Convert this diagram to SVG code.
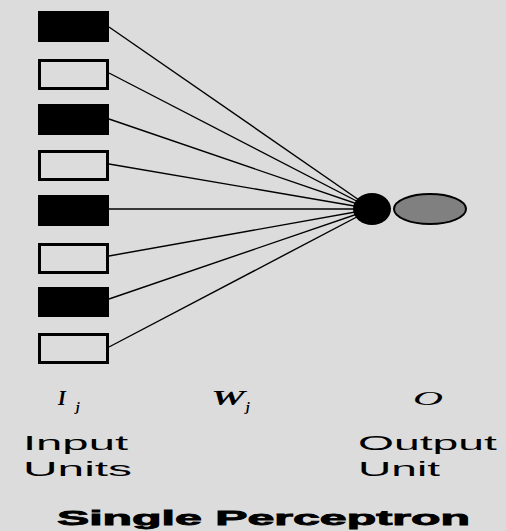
<svg xmlns="http://www.w3.org/2000/svg" width="506" height="531" viewBox="0 0 506 531">
<style>
.on{fill:#000}
.off{fill:#dcdcdc;stroke:#000;stroke-width:3}
.w{stroke:#000;stroke-width:1.4;fill:none}
.t{font-family:"Liberation Sans",Arial,sans-serif;font-size:20px;fill:#000}
.m{font-family:"Liberation Serif","Times New Roman",serif;font-style:italic;font-weight:bold;fill:#000}
.o{font-family:"Liberation Serif","Times New Roman",serif;font-style:italic;font-weight:normal;fill:#000}
</style>
<rect width="506" height="531" fill="#dcdcdc"/>
<g id="connectors">
<line class="w" x1="109" y1="27" x2="372" y2="209"/>
<line class="w" x1="109" y1="73" x2="372" y2="209"/>
<line class="w" x1="109" y1="119" x2="372" y2="209"/>
<line class="w" x1="109" y1="164" x2="372" y2="209"/>
<line class="w" x1="109" y1="209" x2="372" y2="209"/>
<line class="w" x1="109" y1="256" x2="372" y2="209"/>
<line class="w" x1="109" y1="299" x2="372" y2="209"/>
<line class="w" x1="109" y1="347" x2="372" y2="209"/>
</g>
<g id="in1"><rect class="on" x="38" y="11" width="71" height="31"/></g>
<g id="in2"><rect class="off" x="39.5" y="60.5" width="68" height="28"/></g>
<g id="in3"><rect class="on" x="38" y="104" width="71" height="31"/></g>
<g id="in4"><rect class="off" x="39.5" y="151.5" width="68" height="28"/></g>
<g id="in5"><rect class="on" x="38" y="195" width="71" height="31"/></g>
<g id="in6"><rect class="off" x="39.5" y="244.5" width="68" height="28"/></g>
<g id="in7"><rect class="on" x="38" y="287" width="71" height="30"/></g>
<g id="in8"><rect class="off" x="39.5" y="334.5" width="68" height="28"/></g>
<g id="sum"><ellipse cx="372" cy="209" rx="19" ry="16" fill="#000"/></g>
<g id="out"><ellipse cx="430" cy="209" rx="36" ry="15" fill="#808080" stroke="#000" stroke-width="2"/></g>
<g id="labels">
<text class="m" x="58" y="405" font-size="20">I</text>
<text class="m" x="76" y="411" font-size="13">j</text>
<text class="m" x="211" y="405" font-size="20" textLength="34" lengthAdjust="spacingAndGlyphs">W</text>
<text class="m" x="246" y="411" font-size="13">j</text>
<text class="o" x="413" y="405" font-size="18" textLength="30" lengthAdjust="spacingAndGlyphs">O</text>
<text class="t" x="23" y="450" textLength="105" lengthAdjust="spacingAndGlyphs">Input</text>
<text class="t" x="23" y="476" textLength="109" lengthAdjust="spacingAndGlyphs">Units</text>
<text class="t" x="358" y="450" textLength="139" lengthAdjust="spacingAndGlyphs">Output</text>
<text class="t" x="358" y="476" textLength="82" lengthAdjust="spacingAndGlyphs">Unit</text>
<text class="t" x="57" y="525" font-weight="900" font-size="18" stroke="#000" stroke-width="0.8" textLength="413" lengthAdjust="spacingAndGlyphs">Single Perceptron</text>
</g>
</svg>
